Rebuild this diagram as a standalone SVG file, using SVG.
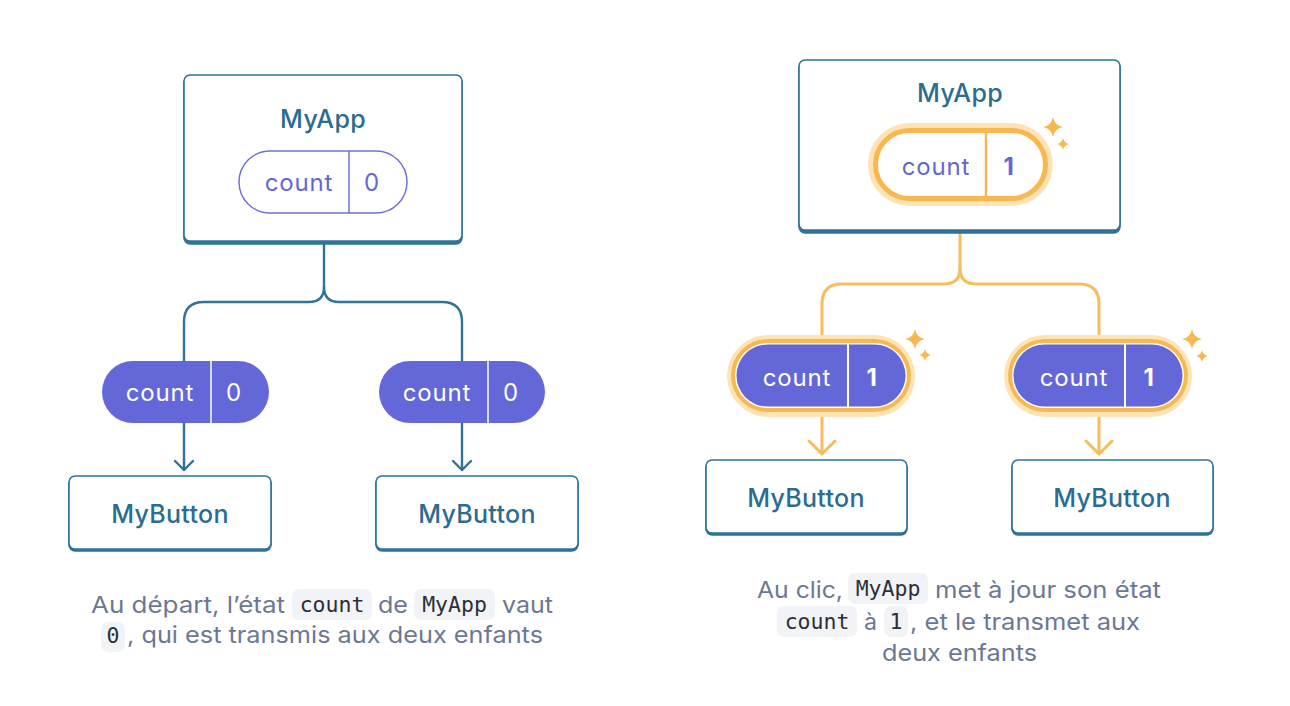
<svg xmlns="http://www.w3.org/2000/svg" width="1290" height="706" viewBox="0 0 1290 706">
<style>
.box{fill:#fff;stroke:#2f7399;stroke-width:1.6}
.shadow{fill:#2f7399}
.lbl{font-family:Inter,"Noto Sans",sans-serif;font-size:25px;font-weight:500;fill:#2b6c91;text-anchor:middle;letter-spacing:0.3px}
.pilltxt{font-family:Inter,"Noto Sans",sans-serif;font-size:24px;text-anchor:middle;letter-spacing:0.8px}
.blue{stroke:#2f7399;stroke-width:2.4;fill:none;stroke-linecap:round;stroke-linejoin:round}
.orange{stroke:#f9bc5c;stroke-width:3;fill:none;stroke-linecap:round;stroke-linejoin:round}
.cap{font-family:Inter,"Noto Sans",sans-serif;font-size:23px;fill:#6b7895}
.code{font-family:"DejaVu Sans Mono","Liberation Mono",monospace;font-size:21.5px;fill:#2b2f38;text-anchor:middle}
.codebg{fill:#f2f3f6}
.spark{fill:#f8b84e}
</style>
<defs>
<path id="sparkL" d="M0,-10 Q1.5,-1.5 10,0 Q1.5,1.5 0,10 Q-1.5,1.5 -10,0 Q-1.5,-1.5 0,-10Z"/>
<path id="sparkS" d="M0,-6 Q1,-1 6,0 Q1,1 0,6 Q-1,1 -6,0 Q-1,-1 0,-6Z"/>
</defs>

<g id="connectors">
<path class="blue" d="M324,244 V287 Q324,302 309,302 H204 Q184,302 184,322 V361"/>
<path class="blue" d="M324,287 Q324,302 339,302 H442 Q462,302 462,322 V361"/>
<path class="blue" d="M184,423 V470 M175,461 L184,470 L193,461"/>
<path class="blue" d="M462,423 V470 M453,461 L462,470 L471,461"/>
<path class="orange" d="M960,233 V268 Q960,284 944,284 H842 Q822,284 822,304 V336"/>
<path class="orange" d="M960,268 Q960,284 976,284 H1079 Q1099,284 1099,304 V336"/>
<path class="orange" d="M822,417 V454 M809,441 L822,454 L835,441"/>
<path class="orange" d="M1099,417 V454 M1086,441 L1099,454 L1112,441"/>
</g>

<g id="myapp-left">
<rect class="shadow" x="183.2" y="76.2" width="279.6" height="168.6" rx="7"/>
<rect class="box" x="184" y="75" width="278" height="166" rx="6"/>
<text class="lbl" x="323" y="128">MyApp</text>
<rect x="239" y="151" width="168" height="62" rx="31" fill="#fff" stroke="#7072d4" stroke-width="1.5"/>
<line x1="349" y1="151" x2="349" y2="213" stroke="#7072d4" stroke-width="1.5"/>
<text class="pilltxt" x="299" y="191" fill="#6466d4">count</text>
<text class="pilltxt" x="372" y="191" fill="#6466d4">0</text>
</g>

<g id="pill-left-1">
<rect x="102" y="361" width="167" height="62" rx="31" fill="#6467d8"/>
<line x1="211" y1="361" x2="211" y2="423" stroke="#fff" stroke-width="1.5"/>
<text class="pilltxt" x="160" y="401" fill="#fff">count</text>
<text class="pilltxt" x="234" y="401" fill="#fff">0</text>
</g>
<g id="pill-left-2">
<rect x="379" y="361" width="166" height="62" rx="31" fill="#6467d8"/>
<line x1="488" y1="361" x2="488" y2="423" stroke="#fff" stroke-width="1.5"/>
<text class="pilltxt" x="437" y="401" fill="#fff">count</text>
<text class="pilltxt" x="511" y="401" fill="#fff">0</text>
</g>

<g id="mybutton-left-1">
<rect class="shadow" x="68.2" y="477.2" width="203.6" height="74.6" rx="7"/>
<rect class="box" x="69" y="476" width="202" height="73" rx="6"/>
<text class="lbl" x="170" y="523">MyButton</text>
</g>
<g id="mybutton-left-2">
<rect class="shadow" x="375.2" y="477.2" width="203.6" height="74.6" rx="7"/>
<rect class="box" x="376" y="476" width="202" height="73" rx="6"/>
<text class="lbl" x="477" y="523">MyButton</text>
</g>

<g id="myapp-right">
<rect class="shadow" x="798.2" y="61.2" width="322.6" height="172.6" rx="7"/>
<rect class="box" x="799" y="60" width="321" height="170" rx="6"/>
<text class="lbl" x="960" y="102">MyApp</text>
<rect x="868" y="123" width="185" height="83" rx="41.5" fill="#fde3b6"/>
<rect x="875.5" y="130.5" width="170" height="68" rx="34" fill="#fff" stroke="#f8b851" stroke-width="5"/>
<line x1="986" y1="133" x2="986" y2="196" stroke="#f8b851" stroke-width="2.5"/>
<text class="pilltxt" x="936" y="175" fill="#6466d4">count</text>
<text class="pilltxt" x="1009" y="175" fill="#6466d4" font-weight="700">1</text>
<use href="#sparkL" x="1053" y="127" class="spark"/>
<use href="#sparkS" x="1063" y="144" class="spark"/>
</g>

<g id="pill-right-1">
<rect x="727" y="335" width="188" height="82" rx="41" fill="#fde3b6"/>
<rect x="731" y="339" width="180" height="73" rx="36.5" fill="#f8b851"/>
<rect x="735" y="343" width="172" height="65" rx="32.5" fill="#fff"/>
<rect x="736.5" y="344.5" width="169" height="62" rx="31" fill="#6467d8"/>
<line x1="848" y1="344" x2="848" y2="407" stroke="#fff" stroke-width="2"/>
<text class="pilltxt" x="797" y="386" fill="#fff">count</text>
<text class="pilltxt" x="872" y="386" fill="#fff" font-weight="700">1</text>
<use href="#sparkL" x="915" y="339" class="spark"/>
<use href="#sparkS" x="925" y="355" class="spark"/>
</g>
<g id="pill-right-2">
<rect x="1004" y="335" width="188" height="82" rx="41" fill="#fde3b6"/>
<rect x="1008" y="339" width="180" height="73" rx="36.5" fill="#f8b851"/>
<rect x="1012" y="343" width="172" height="65" rx="32.5" fill="#fff"/>
<rect x="1013.5" y="344.5" width="169" height="62" rx="31" fill="#6467d8"/>
<line x1="1125" y1="344" x2="1125" y2="407" stroke="#fff" stroke-width="2"/>
<text class="pilltxt" x="1074" y="386" fill="#fff">count</text>
<text class="pilltxt" x="1149" y="386" fill="#fff" font-weight="700">1</text>
<use href="#sparkL" x="1192" y="339" class="spark"/>
<use href="#sparkS" x="1202" y="356" class="spark"/>
</g>

<g id="mybutton-right-1">
<rect class="shadow" x="705.2" y="461.2" width="202.6" height="74.6" rx="7"/>
<rect class="box" x="706" y="460" width="201" height="73" rx="6"/>
<text class="lbl" x="806" y="507">MyButton</text>
</g>
<g id="mybutton-right-2">
<rect class="shadow" x="1011.2" y="461.2" width="202.6" height="74.6" rx="7"/>
<rect class="box" x="1012" y="460" width="201" height="73" rx="6"/>
<text class="lbl" x="1112" y="507">MyButton</text>
</g>

<g id="caption-left">
<rect class="codebg" x="292" y="589" width="80" height="31" rx="7"/>
<rect class="codebg" x="414" y="589" width="81" height="31" rx="7"/>
<rect class="codebg" x="101" y="622" width="24" height="30" rx="7"/>
<text class="cap" x="91" y="613" textLength="194" lengthAdjust="spacingAndGlyphs">Au départ, l’état</text>
<text class="code" x="332" y="612">count</text>
<text class="cap" x="378" y="613" textLength="30" lengthAdjust="spacingAndGlyphs">de</text>
<text class="code" x="454.5" y="612">MyApp</text>
<text class="cap" x="502" y="613" textLength="51" lengthAdjust="spacingAndGlyphs">vaut</text>
<text class="code" x="113" y="643">0</text>
<text class="cap" x="127" y="643" textLength="416" lengthAdjust="spacingAndGlyphs">, qui est transmis aux deux enfants</text>
</g>

<g id="caption-right">
<rect class="codebg" x="848" y="573" width="80" height="31" rx="7"/>
<rect class="codebg" x="777" y="606" width="80" height="31" rx="7"/>
<rect class="codebg" x="884" y="606" width="24" height="31" rx="7"/>
<text class="cap" x="757" y="598" textLength="86" lengthAdjust="spacingAndGlyphs">Au clic,</text>
<text class="code" x="888" y="596">MyApp</text>
<text class="cap" x="935" y="598" textLength="226" lengthAdjust="spacingAndGlyphs">met à jour son état</text>
<text class="code" x="817" y="629">count</text>
<text class="cap" x="864" y="630" textLength="13" lengthAdjust="spacingAndGlyphs">à</text>
<text class="code" x="896" y="629">1</text>
<text class="cap" x="910" y="630" textLength="230" lengthAdjust="spacingAndGlyphs">, et le transmet aux</text>
<text class="cap" x="959.5" y="661" text-anchor="middle" textLength="155" lengthAdjust="spacingAndGlyphs">deux enfants</text>
</g>
</svg>
